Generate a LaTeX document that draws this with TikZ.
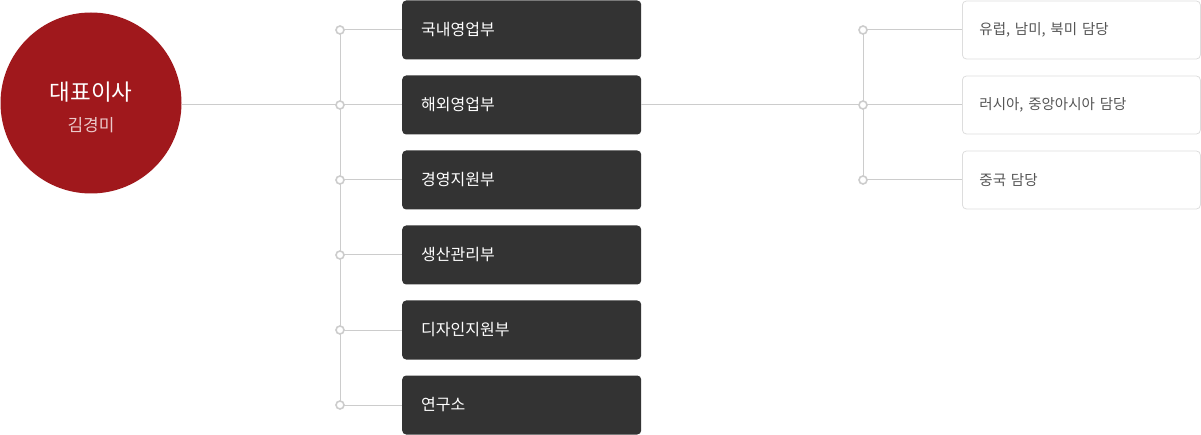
\documentclass[tikz,border=0pt]{standalone}
\usepackage{fontspec}
\newfontfamily\kr{Noto Sans CJK KR}
\definecolor{ceo}{HTML}{A0181C}
\definecolor{dark}{HTML}{333333}
\definecolor{ln}{HTML}{CCCCCC}
\definecolor{bd}{HTML}{DDDDDD}
\definecolor{tx}{HTML}{555555}
\definecolor{sub}{HTML}{EBC9CA}
\begin{document}
\begin{tikzpicture}[x=1pt,y=-1pt,
  darkbox/.style={fill=dark,rounded corners=4pt,minimum width=239pt,minimum height=59pt,inner sep=0pt,anchor=west,text=white,font=\kr\fontsize{16}{19}\selectfont,align=left,text width=201pt},
  lightbox/.style={draw=bd,line width=0.8pt,fill=white,rounded corners=4pt,minimum width=238pt,minimum height=58pt,inner sep=0pt,anchor=west,text=tx,font=\kr\fontsize{14.5}{17}\selectfont,align=left,text width=204pt},
  dot/.style={circle,draw=ln,fill=white,line width=1.6pt,minimum size=8pt,inner sep=0pt},
  conn/.style={draw=ln,line width=1pt}]
\useasboundingbox (0,0) rectangle (1201,435);
% CEO
\node[circle,fill=ceo,minimum size=181pt,inner sep=0pt] (ceo) at (91,103) {};
\node[text=white,font=\kr\fontsize{22.5}{26}\selectfont] (ceot) at (91,92) {대표이사};
\node[text=sub,font=\kr\fontsize{17}{20}\selectfont] (ceon) at (91,125) {김경미};
% departments
\foreach \n/\t [count=\i from 0] in {d1/국내영업부,d2/해외영업부,d3/경영지원부,d4/생산관리부,d5/디자인지원부,d6/연구소}{
  \coordinate (c\n) at (340,30+75*\i);
  \node[darkbox] (\n) at (402,30+75*\i) {\t};
}
\coordinate (vtop) at (340,30);
\coordinate (vbot) at (340,405);
\path[conn] (vtop) -- (vbot);
\path[conn] (ceo.east |- cd2) -- (cd2);
\foreach \n in {d1,d2,d3,d4,d5,d6}{ \path[conn] (c\n) -- (\n.west); }
% overseas
\foreach \n/\t [count=\i from 0] in {r1/{유럽, 남미, 북미 담당},r2/{러시아, 중앙아시아 담당},r3/{중국 담당}}{
  \coordinate (c\n) at (863,30+75*\i);
  \node[lightbox] (\n) at (962,30+75*\i) {\t};
}
\path[conn] (cr1) -- (cr3);
\path[conn] (d2.east) -- (cr2);
\foreach \n in {r1,r2,r3}{ \path[conn] (c\n) -- (\n.west); }
% dots
\foreach \n in {d1,d2,d3,d4,d5,d6,r1,r2,r3}{ \node[dot] (p\n) at (c\n) {}; }
\end{tikzpicture}
\end{document}
